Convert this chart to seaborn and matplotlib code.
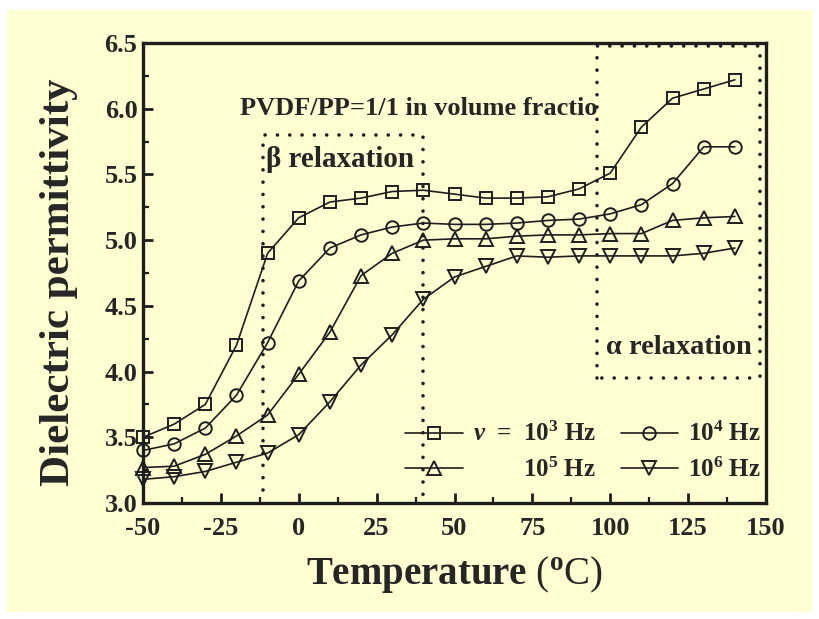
import matplotlib
matplotlib.use("Agg")
import numpy as np
import pandas as pd
import matplotlib.pyplot as plt
import seaborn as sns
from matplotlib.patches import Rectangle
from matplotlib.transforms import Bbox, TransformedBbox
from matplotlib.ticker import MultipleLocator, FormatStrFormatter, FixedLocator

# ---------------- data ----------------
temperature = [-50, -40, -30, -20, -10, 0, 10, 20, 30, 40,
               50, 60, 70, 80, 90, 100, 110, 120, 130, 140]
eps_1e3 = [3.50, 3.60, 3.75, 4.20, 4.90, 5.17, 5.29, 5.32, 5.37, 5.38,
           5.35, 5.32, 5.32, 5.33, 5.39, 5.51, 5.86, 6.08, 6.15, 6.22]
eps_1e4 = [3.40, 3.45, 3.57, 3.82, 4.22, 4.69, 4.94, 5.04, 5.10, 5.13,
           5.12, 5.12, 5.13, 5.15, 5.16, 5.20, 5.27, 5.43, 5.71, 5.71]
eps_1e5 = [3.27, 3.28, 3.37, 3.51, 3.67, 3.98, 4.30, 4.73, 4.90, 5.00,
           5.01, 5.01, 5.03, 5.04, 5.04, 5.05, 5.05, 5.15, 5.17, 5.18]
eps_1e6 = [3.18, 3.20, 3.24, 3.31, 3.38, 3.52, 3.77, 4.05, 4.28, 4.55,
           4.72, 4.80, 4.88, 4.87, 4.88, 4.88, 4.88, 4.88, 4.90, 4.94]
freq_labels = ["1e3 Hz", "1e4 Hz", "1e5 Hz", "1e6 Hz"]
legend_labels = [r"$\mathit{\nu}$  =  10$^{\mathbf{3}}$ Hz",
                 r"10$^{\mathbf{4}}$ Hz",
                 r"        10$^{\mathbf{5}}$ Hz",
                 r"10$^{\mathbf{6}}$ Hz"]
x_ticks = [-50, -25, 0, 25, 50, 75, 100, 125, 150]
y_ticks = [3.0, 3.5, 4.0, 4.5, 5.0, 5.5, 6.0, 6.5]

df = pd.DataFrame({
    "T": temperature * 4,
    "eps": eps_1e3 + eps_1e4 + eps_1e5 + eps_1e6,
    "freq": sum([[f] * len(temperature) for f in freq_labels], []),
})

# ---------------- style ----------------
sns.set_theme(style="ticks")
bg = "#FFFFD2"
ink = "#1e1e1e"
plt.rcParams["font.family"] = ["Liberation Serif", "DejaVu Serif"]
plt.rcParams["font.weight"] = "bold"
plt.rcParams["axes.unicode_minus"] = False
plt.rcParams["mathtext.fontset"] = "custom"
plt.rcParams["mathtext.rm"] = "Liberation Serif"
plt.rcParams["mathtext.bf"] = "Liberation Serif:bold"
plt.rcParams["mathtext.it"] = "Liberation Serif:italic:bold"

fig = plt.figure(figsize=(8.19, 6.19), dpi=100, facecolor="white")
fig.patches.append(Rectangle((7 / 819, 7 / 619), 805 / 819, 602 / 619,
                             transform=fig.transFigure, facecolor=bg,
                             edgecolor="none", zorder=-10))
ax = fig.add_axes([143 / 819, 1 - 503 / 619, 623 / 819, 460 / 619])
ax.set_facecolor(bg)

markers = {"1e3 Hz": ("s", 8.0), "1e4 Hz": ("o", 9.0),
           "1e5 Hz": ("^", 9.8), "1e6 Hz": ("v", 9.8)}
handles = {}
for f in freq_labels:
    mk, ms = markers[f]
    sub = df[df["freq"] == f]
    sns.lineplot(data=sub, x="T", y="eps", ax=ax, color=ink, marker=mk,
                 markersize=ms, markerfacecolor="none", markeredgecolor=ink,
                 markeredgewidth=1.4, linewidth=1.2, clip_on=False,
                 errorbar=None, legend=False)
    handles[f] = ax.lines[-1]

ax.set_xlim(-50, 150)
ax.set_ylim(3.0, 6.5)
ax.xaxis.set_major_locator(FixedLocator(x_ticks))
ax.yaxis.set_major_locator(FixedLocator(y_ticks))
ax.xaxis.set_minor_locator(MultipleLocator(12.5))
ax.yaxis.set_minor_locator(MultipleLocator(0.25))
ax.yaxis.set_major_formatter(FormatStrFormatter("%.1f"))
ax.xaxis.set_major_formatter(FormatStrFormatter("%d"))
ax.tick_params(which="major", direction="in", length=7, width=2,
               top=False, right=False, labelsize=19, color=ink)
ax.tick_params(axis="x", which="major", pad=10)
ax.tick_params(axis="y", which="major", pad=4)
ax.tick_params(which="minor", direction="in", length=4, width=1.6,
               top=False, right=False, color=ink)
for lab in ax.get_xticklabels() + ax.get_yticklabels():
    lab.set_fontweight("bold")
for sp in ax.spines.values():
    sp.set_linewidth(2.4)
    sp.set_color(ink)

ax.set_xlabel(r"$\mathbf{Temperature}$ ($^{\mathrm{o}}$C)", fontsize=28,
              fontweight="normal")
ax.set_ylabel("Dielectric permittivity", fontsize=31, fontweight="bold")
ax.xaxis.set_label_coords(0.5, -0.11)
ax.yaxis.set_label_coords(-0.105, 0.48)

# dotted region boxes
dot = dict(color=ink, linewidth=2.6, linestyle=(0, (0.01, 3.4)),
           dash_capstyle="round", clip_on=False, zorder=1)
ax.plot([-11.5, -11.5, 40, 40], [3.1, 5.8, 5.8, 3.0], **dot)
ax.plot([95.7, 95.7, 148, 148, 95.7], [3.95, 6.48, 6.48, 3.95, 3.95], **dot)

# annotations
t = ax.text(-19, 6.0, "PVDF/PP=1/1 in volume fraction", fontsize=19,
            va="center", ha="left", fontweight="bold", clip_on=True)
t.set_clip_box(TransformedBbox(Bbox([[-50, 3.0], [95.7, 6.5]]), ax.transData))
ax.text(-10.5, 5.61, "β relaxation", fontsize=21, va="center", ha="left",
        fontweight="bold")
ax.text(98.5, 4.18, "α relaxation", fontsize=20.5, va="center", ha="left",
        fontweight="bold")

order = ["1e3 Hz", "1e5 Hz", "1e4 Hz", "1e6 Hz"]
lab_map = dict(zip(freq_labels, legend_labels))
ax.legend([handles[f] for f in order], [lab_map[f] for f in order], ncol=2,
          loc="lower right", bbox_to_anchor=(1.0, 0.035), frameon=False,
          prop={"size": 18, "weight": "bold"}, handlelength=2.3,
          columnspacing=1.0, labelspacing=0.45, handletextpad=0.4,
          borderaxespad=0, borderpad=0.2)

fig.savefig("out.png", dpi=100, facecolor=fig.get_facecolor())
